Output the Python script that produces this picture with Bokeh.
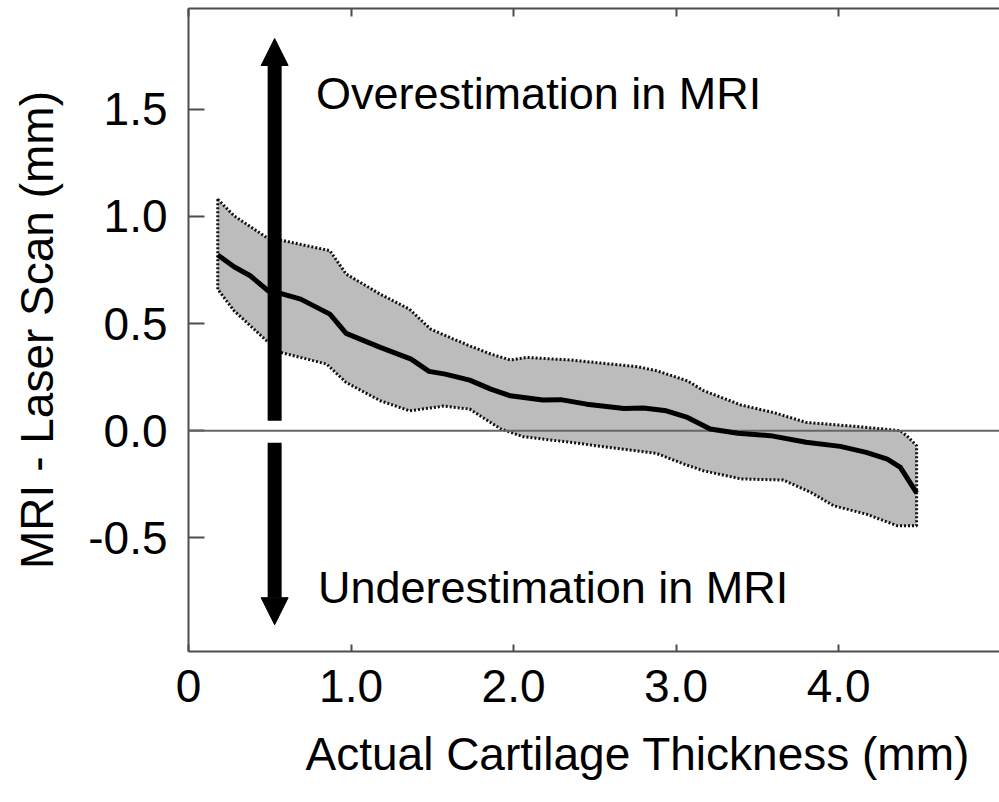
from bokeh.plotting import figure
from bokeh.models import (Range1d, LinearAxis, FixedTicker, Arrow, NormalHead,
                          Span, ColumnDataSource, PrintfTickFormatter, Title)
from bokeh.core.properties import value
from bokeh.embed import file_html
from bokeh.resources import INLINE

# ---- data ----
mean_x = [0.18, 0.28, 0.38, 0.49, 0.57, 0.69, 0.87, 0.97, 1.18, 1.37, 1.48, 1.58,
          1.73, 1.86, 1.98, 2.18, 2.29, 2.45, 2.68, 2.80, 2.94, 3.07, 3.21, 3.38,
          3.58, 3.80, 4.01, 4.17, 4.30, 4.38, 4.48]
mean_y = [0.82, 0.765, 0.723, 0.653, 0.64, 0.614, 0.544, 0.454, 0.389, 0.334, 0.277, 0.264,
          0.236, 0.194, 0.163, 0.143, 0.145, 0.124, 0.104, 0.106, 0.093, 0.062, 0.008, -0.012,
          -0.023, -0.054, -0.073, -0.101, -0.132, -0.171, -0.29]

upper_x = [0.18, 0.28, 0.48, 0.57, 0.87, 0.97, 1.18, 1.36, 1.49, 1.63, 1.73, 1.86,
           1.98, 2.08, 2.35, 2.76, 2.88, 3.07, 3.17, 3.40, 3.60, 3.80, 4.11, 4.38,
           4.43, 4.48]
upper_y = [1.08, 1.003, 0.902, 0.889, 0.84, 0.731, 0.637, 0.567, 0.474, 0.428, 0.396, 0.358,
           0.33, 0.342, 0.33, 0.299, 0.28, 0.233, 0.187, 0.12, 0.085, 0.039, 0.02, 0.0,
           -0.031, -0.07]

lower_x = [0.18, 0.28, 0.48, 0.57, 0.85, 0.97, 1.18, 1.36, 1.57, 1.73, 1.81, 1.92,
           2.06, 2.35, 2.66, 2.88, 3.05, 3.17, 3.40, 3.66, 3.83, 3.97, 4.17, 4.36, 4.48]
lower_y = [0.66, 0.56, 0.42, 0.365, 0.311, 0.225, 0.14, 0.093, 0.115, 0.101, 0.062, 0.009,
           -0.028, -0.054, -0.085, -0.106, -0.156, -0.187, -0.225, -0.23, -0.288, -0.35,
           -0.389, -0.443, -0.443]

x_ticks = [0, 1, 2, 3, 4]
x_tick_labels = ["0", "1.0", "2.0", "3.0", "4.0"]
y_ticks = [-0.5, 0.0, 0.5, 1.0, 1.5]

arrow_x = 0.53
up_arrow = (0.047, 1.83)
down_arrow = (-0.056, -0.905)

annot_x = [0.785, 0.797]
annot_y = [1.572, -0.732]
annot_text = ["Overestimation in MRI", "Underestimation in MRI"]

x_label = "Actual Cartilage Thickness (mm)"
y_label = "MRI - Laser Scan (mm)"

FONT = "Liberation Sans"
AXIS_COLOR = "#4d4d4d"

p = figure(width=999, height=802,
           x_range=Range1d(0, 4.99), y_range=Range1d(-1.03, 1.97),
           x_axis_type=None, y_axis_type=None,
           output_backend="svg", toolbar_location=None,
           min_border_left=188, min_border_right=0, min_border_top=8,
           min_border_bottom=151)
p.outline_line_color = None
p.background_fill_color = "white"
p.border_fill_color = "white"

# band
band_xs = upper_x + lower_x[::-1]
band_ys = upper_y + lower_y[::-1]
p.patch(band_xs, band_ys, fill_color="#bcbcbc", line_color="#111111",
        line_width=3, line_dash="2 2")

# zero line
p.add_layout(Span(location=0, dimension="width", line_color="#666666", line_width=2))

# mean line
r = p.line(mean_x, mean_y, line_color="black", line_width=5, line_join="round")
r.level = "overlay"

# arrows
p.add_layout(Arrow(x_start=arrow_x, y_start=up_arrow[0], x_end=arrow_x, y_end=up_arrow[1],
                   line_color="black", line_width=14,
                   end=NormalHead(size=27, fill_color="black", line_color="black")))
p.add_layout(Arrow(x_start=arrow_x, y_start=down_arrow[0], x_end=arrow_x, y_end=down_arrow[1],
                   line_color="black", line_width=14,
                   end=NormalHead(size=27, fill_color="black", line_color="black")))

# annotations
src = ColumnDataSource(dict(x=annot_x, y=annot_y, t=annot_text))
p.text(x="x", y="y", text="t", source=src, text_font=value(FONT),
       text_font_size="45px", text_color="black", text_align="left",
       text_baseline="alphabetic")

# axes
xax = LinearAxis(ticker=FixedTicker(ticks=x_ticks),
                 major_label_overrides={t: l for t, l in zip(x_ticks, x_tick_labels)})
xax.major_tick_in = 7
xax.major_tick_out = 0
xax.minor_tick_in = 0
xax.minor_tick_out = 0
xax.major_label_standoff = 18
xax.major_label_text_font = FONT
xax.major_label_text_font_size = "46px"
xax.major_label_text_color = "black"
xax.axis_line_color = AXIS_COLOR
xax.axis_line_width = 2
xax.major_tick_line_color = AXIS_COLOR
xax.major_tick_line_width = 2
p.add_layout(xax, "below")

# x axis title, placed off-centre as in the reference
p.add_layout(Title(text=x_label, align="left", offset=117, standoff=42,
                   text_font=FONT, text_font_size="46px", text_font_style="normal",
                   text_color="black"), "below")

yax = LinearAxis(ticker=FixedTicker(ticks=y_ticks),
                 formatter=PrintfTickFormatter(format="%.1f"),
                 axis_label=y_label)
yax.major_tick_in = 16
yax.major_tick_out = 0
yax.minor_tick_in = 0
yax.minor_tick_out = 0
yax.major_label_standoff = 21
yax.axis_label_standoff = 22
yax.major_label_text_font = FONT
yax.major_label_text_font_size = "46px"
yax.major_label_text_color = "black"
yax.axis_label_text_font = FONT
yax.axis_label_text_font_size = "46px"
yax.axis_label_text_font_style = "normal"
yax.axis_label_text_color = "black"
yax.axis_line_color = AXIS_COLOR
yax.axis_line_width = 2
yax.major_tick_line_color = AXIS_COLOR
yax.major_tick_line_width = 2
p.add_layout(yax, "left")

tax = LinearAxis(ticker=FixedTicker(ticks=x_ticks),
                 major_label_overrides={t: "" for t in x_ticks})
tax.major_tick_in = 8
tax.major_tick_out = 0
tax.minor_tick_in = 0
tax.minor_tick_out = 0
tax.major_label_standoff = 0
tax.major_label_text_font_size = "0px"
tax.axis_line_color = AXIS_COLOR
tax.axis_line_width = 2
tax.major_tick_line_color = AXIS_COLOR
tax.major_tick_line_width = 2
p.add_layout(tax, "above")

open("out.html", "w").write(file_html(p, INLINE))
